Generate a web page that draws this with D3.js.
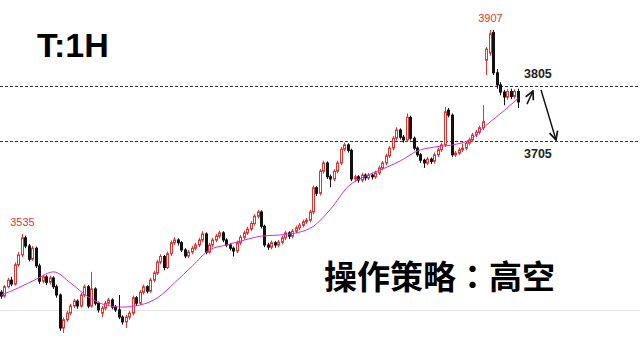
<!DOCTYPE html>
<html>
<head>
<meta charset="utf-8">
<script src="https://cdn.jsdelivr.net/npm/d3@7"></script>
<style>
  body { margin: 0; background: #fff; }
  svg { display: block; }
</style>
</head>
<body>
<div id="chart"></div>
<script>
// canvas size
var w = 640;
var h = 358;

// candle data (1H bars)
var opens = [
  3430,3423,3440,3452,3445,3480,3498,3529,3514,3490,
  3510,3478,3450,3458,3448,3456,3440,3425,3365,3380,
  3392,3405,3414,3405,3425,3440,3405,3436,3410,3392,
  3401,3410,3416,3403,3398,3385,3376,3385,3392,3420,
  3410,3430,3440,3432,3452,3465,3485,3495,3475,3500,
  3520,3525,3520,3507,3496,3503,3510,3516,3525,3536,
  3503,3516,3525,3532,3538,3525,3516,3510,3505,3520,
  3530,3538,3545,3555,3568,3576,3550,3516,3512,3520,
  3516,3521,3529,3538,3532,3541,3547,3552,3558,3561,
  3576,3620,3610,3650,3665,3640,3636,3650,3665,3690,
  3698,3688,3636,3640,3634,3643,3638,3643,3640,3647,
  3656,3665,3678,3692,3710,3725,3712,3707,3748,3710,
  3692,3680,3670,3665,3672,3668,3680,3689,3698,3761,
  3752,3680,3683,3689,3692,3701,3707,3716,3721,3729,
  3852,3865,3902,3829,3807,3794,3785,3795,3786,3795
];
var highs = [
  3434,3443,3456,3458,3484,3503,3536,3533,3518,3514,
  3513,3482,3462,3461,3460,3459,3444,3428,3384,3396,
  3409,3418,3417,3429,3444,3443,3467,3439,3413,3405,
  3414,3420,3419,3407,3425,3388,3389,3396,3424,3423,
  3434,3444,3443,3456,3469,3489,3499,3498,3504,3524,
  3530,3528,3523,3510,3507,3514,3520,3529,3541,3539,
  3520,3529,3536,3542,3541,3528,3519,3513,3524,3534,
  3542,3549,3559,3572,3580,3579,3553,3520,3524,3523,
  3525,3533,3542,3541,3545,3551,3556,3562,3565,3580,
  3624,3623,3654,3669,3668,3644,3654,3669,3694,3702,
  3701,3691,3644,3643,3647,3646,3647,3646,3651,3660,
  3669,3682,3696,3714,3730,3728,3716,3755,3751,3713,
  3695,3683,3673,3676,3675,3684,3693,3702,3767,3765,
  3755,3687,3693,3700,3705,3711,3720,3725,3733,3770,
  3876,3907,3907,3836,3812,3798,3799,3800,3799,3800
];
var lows = [
  3418,3420,3437,3441,3442,3476,3494,3510,3486,3487,
  3474,3445,3446,3443,3444,3436,3420,3360,3356,3376,
  3388,3401,3400,3402,3421,3401,3402,3406,3393,3385,
  3397,3406,3399,3394,3381,3371,3365,3380,3388,3405,
  3407,3426,3428,3429,3448,3461,3481,3470,3472,3496,
  3516,3515,3503,3492,3492,3499,3506,3512,3521,3499,
  3500,3512,3521,3528,3521,3512,3506,3495,3501,3516,
  3526,3534,3541,3551,3564,3546,3512,3507,3508,3511,
  3512,3517,3525,3527,3528,3537,3543,3548,3554,3557,
  3572,3605,3606,3646,3636,3621,3632,3646,3661,3686,
  3684,3632,3631,3629,3630,3633,3634,3635,3636,3643,
  3652,3661,3674,3688,3706,3708,3702,3703,3706,3688,
  3676,3665,3656,3661,3663,3664,3676,3685,3694,3748,
  3676,3676,3679,3685,3688,3697,3703,3712,3717,3725,
  3825,3860,3825,3800,3788,3770,3780,3781,3782,3765
];
var closes = [
  3423,3440,3452,3445,3480,3498,3529,3514,3490,3510,
  3478,3450,3458,3448,3456,3440,3425,3365,3380,3392,
  3405,3414,3405,3425,3440,3405,3436,3410,3398,3401,
  3410,3416,3403,3398,3385,3376,3385,3392,3420,3410,
  3430,3440,3432,3452,3465,3485,3495,3475,3500,3520,
  3525,3520,3507,3496,3503,3510,3516,3525,3536,3503,
  3516,3525,3532,3538,3525,3516,3510,3505,3520,3530,
  3538,3545,3555,3568,3576,3550,3516,3512,3520,3516,
  3521,3529,3538,3532,3541,3547,3552,3558,3561,3576,
  3620,3610,3650,3665,3640,3636,3650,3665,3690,3698,
  3688,3636,3640,3634,3643,3638,3643,3640,3647,3656,
  3665,3678,3692,3710,3725,3712,3707,3748,3710,3692,
  3680,3670,3665,3672,3668,3680,3689,3698,3758,3752,
  3680,3683,3689,3692,3701,3707,3716,3721,3729,3740,
  3872,3900,3829,3807,3794,3785,3795,3786,3795,3776
];

// moving average, read at every 5th bar
var maIndex = [0,5,10,15,20,25,30,35,40,45,50,55,60,65,70,75,80,85,90,95,100,105,110,115,120,125,130,135,140,145,149];
var maValues = [3425,3438,3454,3467,3447,3421,3407,3403,3407,3420,3447,3478,3507,3516,3525,3532,3534,3538,3550,3581,3623,3641,3654,3669,3687,3694,3698,3707,3734,3761,3783];

// levels and marked extremes
var levels = [3805, 3705];
var peaks = [{ idx: 141, text: "3907" }, { idx: 6, text: "3535" }];

var upColor = "#e8312f";
var downColor = "#111";

var svg = d3.select("#chart")
    .append("svg")
    .attr("width", w)
    .attr("height", h);

var bars = d3.range(closes.length).map(function (i) {
    return { i: i, o: opens[i], h: highs[i], l: lows[i], c: closes[i] };
});

//Create scale functions
var xScale = d3.scaleBand()
    .domain(d3.range(closes.length))
    .range([0, 520]);

var yScale = d3.scaleLinear()
    .domain([3705, 3805])
    .range([141, 86]);

function px(i) {
    return Math.round(xScale(i));
}

// faint frame line near bottom
svg.append("line")
    .attr("x1", 0).attr("x2", w)
    .attr("y1", 310.5).attr("y2", 310.5)
    .attr("stroke", "#e4e4e4")
    .attr("stroke-width", 1);

// dashed levels
svg.selectAll("line.level")
    .data(levels)
    .enter()
    .append("line")
    .attr("class", "level")
    .attr("x1", 0).attr("x2", w)
    .attr("y1", function (d) { return Math.round(yScale(d)) + 0.5; })
    .attr("y2", function (d) { return Math.round(yScale(d)) + 0.5; })
    .attr("stroke", "#333")
    .attr("stroke-width", 1)
    .attr("stroke-dasharray", "3,2");

// wicks
svg.selectAll("line.wick")
    .data(bars)
    .enter()
    .append("line")
    .attr("class", "wick")
    .attr("x1", function (d) { return px(d.i) + 1.5; })
    .attr("x2", function (d) { return px(d.i) + 1.5; })
    .attr("y1", function (d) { return yScale(d.h); })
    .attr("y2", function (d) { return yScale(d.l); })
    .attr("stroke", function (d) { return d.c >= d.o ? upColor : downColor; })
    .attr("stroke-width", 1);

// bodies
svg.selectAll("rect.body")
    .data(bars)
    .enter()
    .append("rect")
    .attr("class", "body")
    .attr("x", function (d) { return px(d.i) + 0.5; })
    .attr("y", function (d) { return yScale(Math.max(d.o, d.c)); })
    .attr("width", 2)
    .attr("height", function (d) {
        return Math.max(1, Math.abs(yScale(d.o) - yScale(d.c)));
    })
    .attr("fill", function (d) { return d.c >= d.o ? "#fff" : downColor; })
    .attr("stroke", function (d) { return d.c >= d.o ? upColor : downColor; })
    .attr("stroke-width", 1);

// MA line
var maLine = d3.line()
    .x(function (d, k) { return px(maIndex[k]) + 1.5; })
    .y(function (d) { return yScale(d); })
    .curve(d3.curveMonotoneX);

svg.append("path")
    .datum(maValues)
    .attr("d", maLine)
    .attr("fill", "none")
    .attr("stroke", "#cc33cc")
    .attr("stroke-width", 1);

// extreme labels
svg.selectAll("text.peak")
    .data(peaks)
    .enter()
    .append("text")
    .attr("class", "peak")
    .attr("x", function (d) { return px(d.idx) + 1.5; })
    .attr("y", function (d) { return yScale(highs[d.idx]) - 8; })
    .attr("text-anchor", "middle")
    .attr("font-family", "Liberation Sans, Arial, sans-serif")
    .attr("font-size", "11px")
    .attr("fill", upColor)
    .text(function (d) { return d.text; });

// level labels
svg.selectAll("text.levelLabel")
    .data(levels)
    .enter()
    .append("text")
    .attr("class", "levelLabel")
    .attr("x", 524)
    .attr("y", function (d, i) { return i == 0 ? yScale(d) - 8 : yScale(d) + 17; })
    .attr("font-family", "Liberation Sans, Arial, sans-serif")
    .attr("font-size", "12.5px")
    .attr("font-weight", "bold")
    .attr("fill", "#222")
    .text(function (d) { return d; });

// arrows
var defs = svg.append("defs");
defs.append("marker")
    .attr("id", "head")
    .attr("viewBox", "0 0 10 10")
    .attr("refX", 9).attr("refY", 5)
    .attr("markerWidth", 7).attr("markerHeight", 7)
    .attr("orient", "auto")
    .append("path")
    .attr("d", "M1,1 L9,5 L1,9")
    .attr("fill", "none")
    .attr("stroke", "#111")
    .attr("stroke-width", 1.6);

svg.append("line")
    .attr("x1", 527).attr("y1", yScale(3772))
    .attr("x2", 533).attr("y2", yScale(3796))
    .attr("stroke", "#111").attr("stroke-width", 1.5)
    .attr("marker-end", "url(#head)");

svg.append("line")
    .attr("x1", 541).attr("y1", yScale(3798))
    .attr("x2", 556).attr("y2", yScale(3707))
    .attr("stroke", "#111").attr("stroke-width", 1.5)
    .attr("marker-end", "url(#head)");

// titles
svg.append("text")
    .attr("x", 37)
    .attr("y", 57)
    .attr("font-family", "Liberation Sans, Arial, sans-serif")
    .attr("font-size", "34px")
    .attr("font-weight", "bold")
    .attr("fill", "#000")
    .text("T:1H");

var strategy = svg.append("text")
    .attr("x", 324)
    .attr("y", 289)
    .attr("font-family", "Noto Sans CJK SC, sans-serif")
    .attr("font-size", "33px")
    .attr("font-weight", "bold")
    .attr("fill", "#000");
strategy.append("tspan").text("操作策略");
// centred full-width colon as in the picture
strategy.append("tspan")
    .attr("font-family", "Noto Sans CJK TC, sans-serif")
    .text("：");
strategy.append("tspan").text("高空");
</script>
</body>
</html>
